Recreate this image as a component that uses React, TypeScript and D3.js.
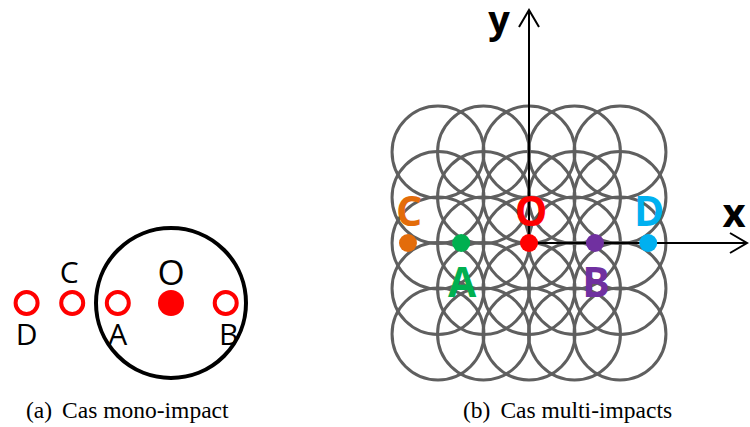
import React from "react";
import * as d3 from "d3";

// ---- Data: panel (a) mono-impact (positions in units of impact radius along x) ----
const monoPoints = ["D", "C", "A", "B"];
const monoX = [-1.9, -1.3, -0.7, 0.72];
const monoLabels = ["D", "C", "A", "B"];
const monoLabelDy = [1, -1, 1, 1]; // 1 = below, -1 = above

// ---- Data: panel (b) multi-impacts (grid units) ----
const gridCols = [-2, -1, 0, 1, 2];
const gridRows = [-2, -1, 0, 1, 2];
const multiNames = ["C", "A", "O", "B", "D"];
const multiX = [-2.66, -1.49, 0, 1.45, 2.62];
const multiColors = ["#E36C0A", "#00B050", "#FF0000", "#7030A0", "#00B0F0"];
const multiLabelPos = ["above", "below", "above", "below", "above"];

const captionTags = ["(a)", "(b)"];
const captionTexts = ["Cas mono-impact", "Cas multi-impacts"];

export default function App() {
  // panel (a) scale: 1 unit = big circle radius
  const ax = d3.scaleLinear().domain([0, 1]).range([171, 247]);
  const ay = 303;
  const R = ax(1) - ax(0);

  // panel (b) scale
  const bx = d3.scaleLinear().domain([0, 1]).range([529, 574.5]);
  const by = d3.scaleLinear().domain([0, 1]).range([243, 197.5]);
  const unit = bx(1) - bx(0);

  const sans = "'Open Sans', 'DejaVu Sans', sans-serif";
  const serif = "Liberation Serif, Times New Roman, Times, serif";
  const capX = [26, 463];

  return (
    <svg
      width={750}
      height={427}
      style={{ position: "absolute", left: 0, top: 0, background: "#fff" }}
    >
      {/* Panel (a) */}
      <circle cx={ax(0)} cy={ay} r={R - 1} fill="none" stroke="#000" strokeWidth={4} />
      <circle cx={ax(0)} cy={ay} r={13} fill="#FF0000" />
      <text x={ax(0)} y={285} textAnchor="middle" fontFamily={sans} fontSize={35} fill="#000">O</text>
      {monoPoints.map((p, i) => (
        <g key={p}>
          <circle cx={ax(monoX[i])} cy={ay} r={11} fill="none" stroke="#FF0000" strokeWidth={4} />
          <text
            x={ax(monoX[i]) + (monoLabels[i] === "C" ? -3 : monoLabels[i] === "B" ? 3 : 0)}
            y={monoLabelDy[i] > 0 ? 345 : 283}
            textAnchor="middle"
            fontFamily={sans}
            fontSize={30}
            fill="#000"
          >
            {monoLabels[i]}
          </text>
        </g>
      ))}

      {/* Panel (b) grid */}
      {gridRows.map((r) =>
        gridCols.map((c) => (
          <circle
            key={`${r}-${c}`}
            cx={bx(c)}
            cy={by(r)}
            r={unit * 1.01}
            fill="none"
            stroke="#5f5f5f"
            strokeWidth={3}
          />
        ))
      )}

      {/* axes */}
      <line x1={bx(0)} y1={by(0)} x2={bx(0)} y2={10} stroke="#000" strokeWidth={2} />
      <polyline points={`${bx(0) - 10},27 ${bx(0)},10 ${bx(0) + 10},27`} fill="none" stroke="#000" strokeWidth={2} />
      <line x1={bx(0)} y1={by(0)} x2={747} y2={by(0)} stroke="#000" strokeWidth={2} />
      <polyline points={`730,${by(0) - 10} 747,${by(0)} 730,${by(0) + 10}`} fill="none" stroke="#000" strokeWidth={2} />
      <text x={499} y={33} textAnchor="middle" fontFamily={sans} fontWeight={700} fontSize={38} fill="#000">y</text>
      <text x={734} y={227} textAnchor="middle" fontFamily={sans} fontWeight={700} fontSize={40} fill="#000">x</text>

      {multiNames.map((n, i) => (
        <g key={n}>
          <circle cx={bx(multiX[i])} cy={by(0)} r={9} fill={multiColors[i]} />
          <text
            x={bx(multiX[i]) + (n === "O" ? 2 : 1)}
            y={multiLabelPos[i] === "above" ? 226 : 297}
            textAnchor="middle"
            fontFamily={sans}
            fontWeight={700}
            fontSize={41}
            fill={multiColors[i]}
          >
            {n}
          </text>
        </g>
      ))}

      {/* captions */}
      {captionTags.map((t, i) => (
        <text key={t} x={capX[i]} y={418} fontFamily={serif} fontSize={23.5} fill="#000">
          <tspan>{t}</tspan>
          <tspan dx={10}>{captionTexts[i]}</tspan>
        </text>
      ))}
    </svg>
  );
}
